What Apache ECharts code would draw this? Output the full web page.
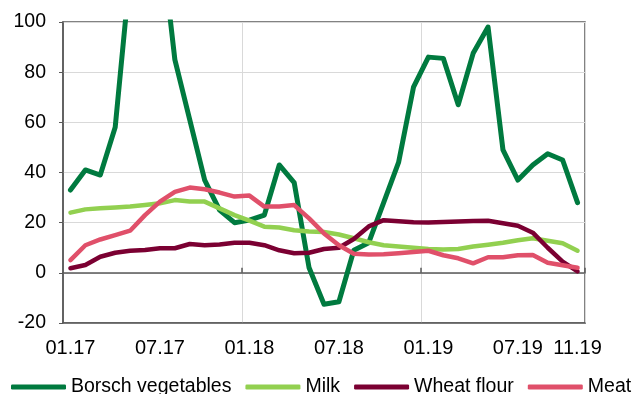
<!DOCTYPE html>
<html>
<head>
<meta charset="utf-8">
<script src="https://cdn.jsdelivr.net/npm/echarts@6/dist/echarts.min.js"></script>
<style>
  html, body { margin: 0; padding: 0; background: #fff; }
  #chart { width: 635px; height: 394px; }
</style>
</head>
<body>
<div id="chart"></div>
<script>
// Monthly categories, January 2017 to November 2019
const months = [
  '01.17','02.17','03.17','04.17','05.17','06.17','07.17','08.17','09.17','10.17','11.17','12.17',
  '01.18','02.18','03.18','04.18','05.18','06.18','07.18','08.18','09.18','10.18','11.18','12.18',
  '01.19','02.19','03.19','04.19','05.19','06.19','07.19','08.19','09.19','10.19','11.19'
];

// Year-on-year price change, %
const borschVegetables = [33, 41, 39, 58, 120, 150, 137, 85, 61, 37, 25, 20, 21, 23, 43, 36, 2, -12.5, -11.5, 9, 12, 28, 44, 74, 86, 85.5, 67, 87.5, 98, 49, 37, 43, 47.5, 45, 28];
const milk = [24, 25.3, 25.7, 26, 26.4, 27, 27.7, 29, 28.4, 28.4, 25.7, 23, 20.8, 18.4, 18.1, 17, 16.5, 16.3, 15.3, 13.8, 12.2, 11, 10.5, 10, 9.5, 9.3, 9.5, 10.5, 11.2, 12, 13, 13.8, 12.8, 11.8, 8.8];
const wheatFlour = [1.8, 3.1, 6.4, 8, 8.8, 9.1, 9.8, 9.8, 11.5, 11, 11.3, 12, 12, 11, 9, 7.8, 8, 9.5, 10, 13.5, 18.5, 21, 20.6, 20.2, 20.1, 20.3, 20.5, 20.7, 20.8, 19.8, 18.8, 16, 10, 4.5, 0.6];
const meat = [5.1, 11, 13.3, 15, 16.8, 23, 28.4, 32.3, 34, 33.3, 32, 30.4, 30.8, 26.4, 26.4, 27, 21.7, 15.7, 11, 7.6, 7.3, 7.4, 7.8, 8.3, 8.8, 7, 5.8, 3.8, 6.2, 6.2, 7, 7.1, 4, 3, 2];

// Labelled months and year boundaries
const labelIndices = [0, 6, 12, 18, 24, 30, 34];
const yearStarts = [12, 24];

const seriesDefs = [
  { name: 'Borsch vegetables', data: borschVegetables, color: '#007a3f', width: 5 },
  { name: 'Milk', data: milk, color: '#92d050', width: 4.5 },
  { name: 'Wheat flour', data: wheatFlour, color: '#7b0032', width: 4.5 },
  { name: 'Meat', data: meat, color: '#e0506a', width: 4.5 }
];

const axisColor = '#595959';
const gridColor = '#d9d9d9';
const fontFamily = 'Liberation Sans, Arial, sans-serif';

const chart = echarts.init(document.getElementById('chart'), null, { renderer: 'canvas' });

chart.setOption({
  animation: false,
  backgroundColor: '#fff',
  grid: {
    left: 63, right: 50, top: 22, bottom: 71,
    show: true,
    borderColor: axisColor,
    borderWidth: 1.5,
    containLabel: false
  },
  legend: {
    left: 11,
    top: 377,
    width: 760,
    padding: 0,
    icon: 'roundRect',
    itemWidth: 55,
    itemHeight: 5,
    itemGap: 14,
    textStyle: { fontSize: 19.5, color: '#000', fontFamily: fontFamily },
    data: seriesDefs.map(s => s.name)
  },
  xAxis: [
    {
      type: 'category',
      data: months,
      position: 'bottom',
      boundaryGap: true,
      axisLine: { onZero: false, lineStyle: { color: axisColor, width: 1.5 } },
      axisTick: { show: false },
      axisLabel: {
        interval: (i) => labelIndices.includes(i),
        fontSize: 20,
        color: '#000',
        fontFamily: fontFamily,
        margin: 15
      },
      splitLine: {
        show: true,
        interval: (i) => yearStarts.includes(i),
        lineStyle: { color: gridColor, width: 1 }
      }
    },
    {
      // zero line with year tick marks
      type: 'category',
      data: months,
      position: 'top',
      boundaryGap: true,
      axisLine: { onZero: true, lineStyle: { color: axisColor, width: 1.5 } },
      axisTick: {
        show: true,
        inside: false,
        length: 5,
        interval: (i) => yearStarts.includes(i),
        lineStyle: { color: axisColor, width: 1.5 }
      },
      axisLabel: { show: false },
      splitLine: { show: false }
    }
  ],
  yAxis: {
    type: 'value',
    min: -20,
    max: 100,
    interval: 20,
    axisLine: { show: true, lineStyle: { color: axisColor, width: 1.5 } },
    axisTick: { show: true, length: 4, lineStyle: { color: axisColor } },
    axisLabel: { fontSize: 19.5, color: '#000', fontFamily: fontFamily, margin: 17 },
    splitLine: { show: true, lineStyle: { color: gridColor, width: 1 } }
  },
  series: seriesDefs.map(s => ({
    name: s.name,
    type: 'line',
    xAxisIndex: 0,
    data: s.data,
    showSymbol: false,
    symbol: 'none',
    clip: true,
    color: s.color,
    lineStyle: { color: s.color, width: s.width, cap: 'round', join: 'round' }
  }))
});
</script>
</body>
</html>
